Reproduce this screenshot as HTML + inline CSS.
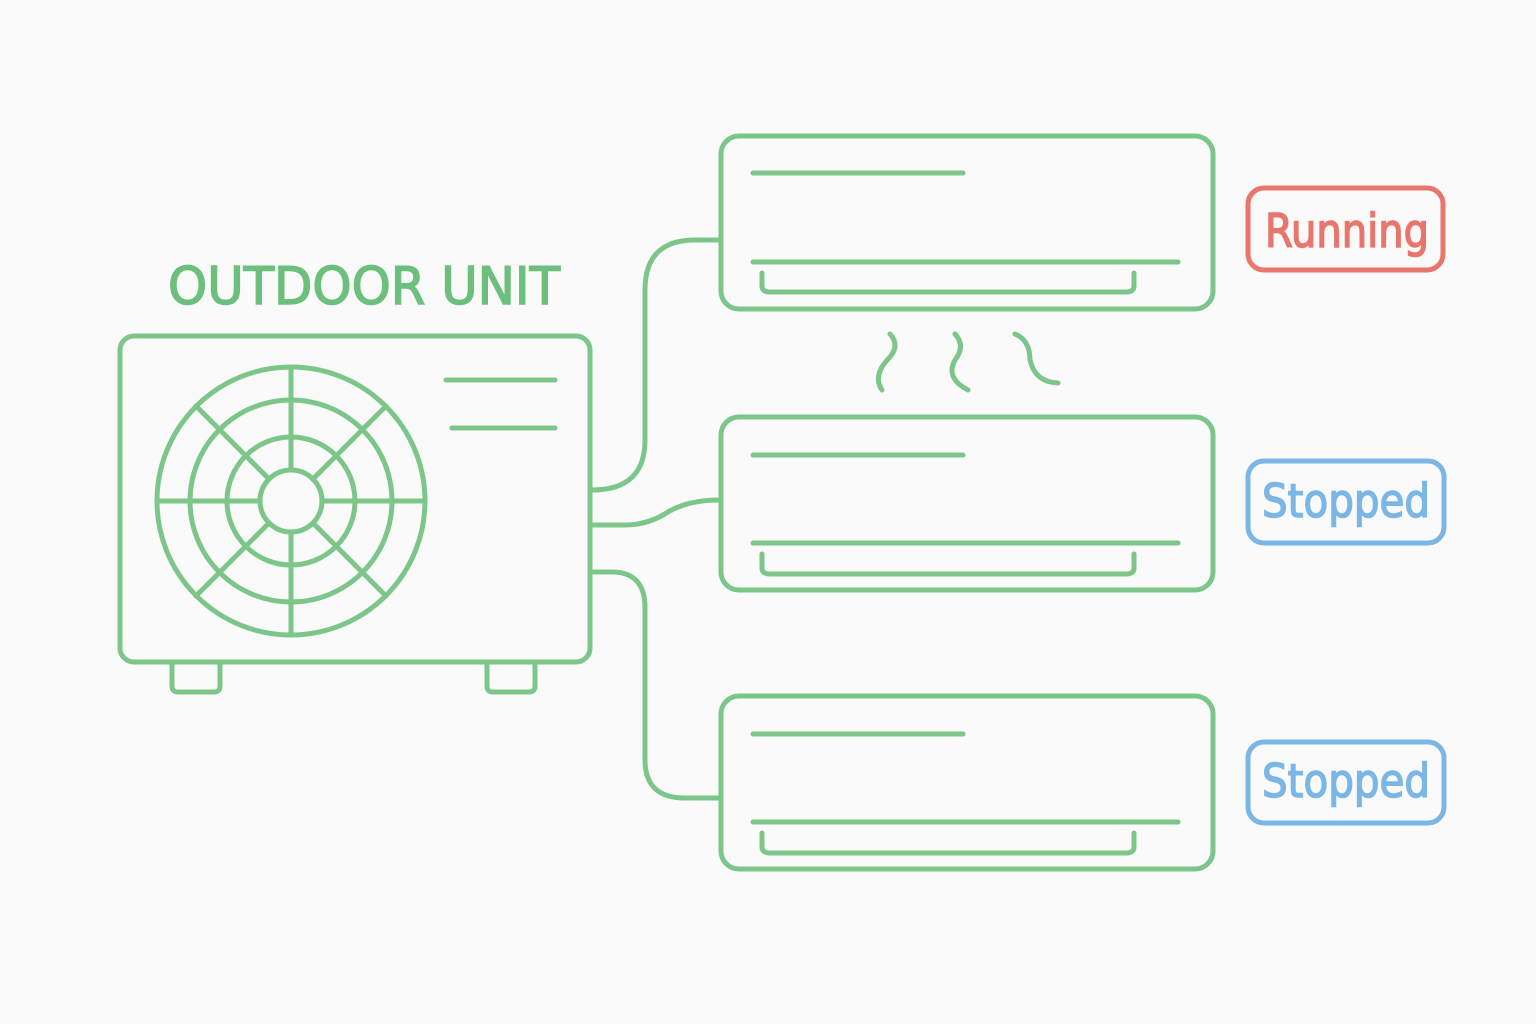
<!DOCTYPE html>
<html><head><meta charset="utf-8"><style>html,body{margin:0;background:#fafafa}svg{display:block}</style></head><body>
<svg width="1536" height="1024" viewBox="0 0 1536 1024" xmlns="http://www.w3.org/2000/svg">
<rect width="1536" height="1024" fill="#fafafa"/>
<g fill="none" stroke="#7cc68a" stroke-width="5" stroke-linecap="round" stroke-linejoin="round">
<rect x="120" y="336" width="470" height="326" rx="14"/>
<path d="M172,662 V686 Q172,692 178,692 H214 Q220,692 220,686 V662"/>
<path d="M487,662 V686 Q487,692 493,692 H529 Q535,692 535,686 V662"/>
<line x1="446" y1="380" x2="555" y2="380"/>
<line x1="452" y1="428" x2="555" y2="428"/>
<circle cx="291" cy="501" r="134"/>
<circle cx="291" cy="501" r="101"/>
<circle cx="291" cy="501" r="64"/>
<circle cx="291" cy="501" r="31"/>
<line x1="291" y1="367" x2="291" y2="470"/><line x1="291" y1="532" x2="291" y2="635"/>
<line x1="157" y1="501" x2="260" y2="501"/><line x1="322" y1="501" x2="425" y2="501"/>
<line x1="196" y1="406" x2="269" y2="479"/><line x1="313" y1="523" x2="386" y2="596"/>
<line x1="386" y1="406" x2="313" y2="479"/><line x1="269" y1="523" x2="196" y2="596"/>
<path d="M592,490 Q645,490 645,440 L645,290 Q645,240 695,240 L720,240"/>
<path d="M592,525 L625,525 Q648,525 668,512 Q688,500 720,500"/>
<path d="M592,572 L612,572 Q645,572 645,608 L645,760 Q645,798 685,798 L720,798"/>
<rect x="721" y="136" width="492" height="173" rx="18"/>
<line x1="753" y1="173" x2="963" y2="173"/><line x1="753" y1="262" x2="1178" y2="262"/>
<path d="M762,273 V286 Q762,292 770,292 H1126 Q1134,292 1134,286 V273"/>
<rect x="721" y="417" width="492" height="173" rx="18"/>
<line x1="753" y1="455" x2="963" y2="455"/><line x1="753" y1="543" x2="1178" y2="543"/>
<path d="M762,554 V568 Q762,574 770,574 H1126 Q1134,574 1134,568 V554"/>
<rect x="721" y="696" width="492" height="173" rx="18"/>
<line x1="753" y1="734" x2="963" y2="734"/><line x1="753" y1="822" x2="1178" y2="822"/>
<path d="M762,833 V847 Q762,853 770,853 H1126 Q1134,853 1134,847 V833"/>
<path d="M890,334 Q900,345 890,357 Q872,375 882,390"/>
<path d="M955,334 Q966,346 955,360 Q945,378 968,390"/>
<path d="M1015,334 Q1030,340 1030,360 Q1035,382 1058,383"/>
</g>
<g font-family="'DejaVu Sans',sans-serif" stroke-width="1.5">
<text x="168" y="304" textLength="392" lengthAdjust="spacingAndGlyphs" font-size="52" fill="#6cbf7c" stroke="#6cbf7c">OUTDOOR UNIT</text>
<rect x="1248" y="188" width="195" height="82" rx="16" fill="none" stroke="#e8766c" stroke-width="5"/>
<text x="1265" y="247" textLength="164" lengthAdjust="spacingAndGlyphs" font-size="46" fill="#e8766c" stroke="#e8766c">Running</text>
<rect x="1248" y="461" width="196" height="82" rx="16" fill="none" stroke="#7ab6e6" stroke-width="5"/>
<text x="1262" y="517" textLength="168" lengthAdjust="spacingAndGlyphs" font-size="46" fill="#7ab6e6" stroke="#7ab6e6">Stopped</text>
<rect x="1248" y="742" width="196" height="81" rx="16" fill="none" stroke="#7ab6e6" stroke-width="5"/>
<text x="1262" y="797" textLength="168" lengthAdjust="spacingAndGlyphs" font-size="46" fill="#7ab6e6" stroke="#7ab6e6">Stopped</text>
</g>
</svg>
</body></html>
